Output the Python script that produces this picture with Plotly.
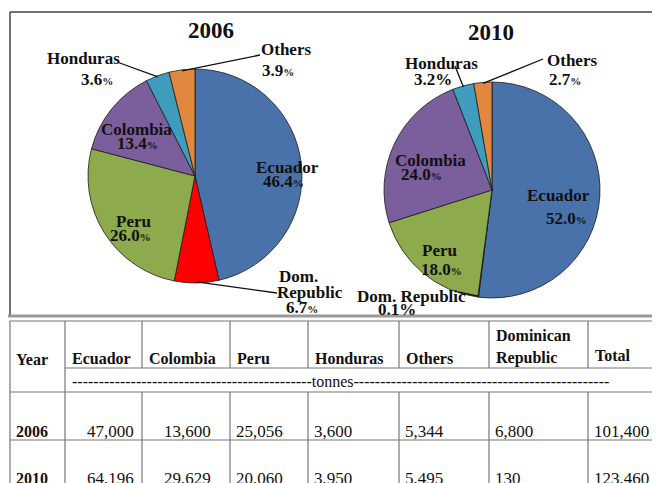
import math
import plotly.graph_objects as go

# the page body adds an 8px margin, so the figure is drawn 8px in
OFF = 8
W, H = 660 - OFF, 483 - OFF

# pie data: share of exports (%)
pie_labels = ["Ecuador", "Dom. Republic", "Peru", "Colombia", "Honduras", "Others"]
share_2006 = [46.4, 6.7, 26.0, 13.4, 3.6, 3.9]
share_2010 = [52.0, 0.1, 18.0, 24.0, 3.2, 2.7]
pie_colors = ["#4A72AA", "#FF0000", "#8DAA4C", "#7B5E9C", "#3E9DBC", "#E2883E"]

# table data (tonnes)
table_years = ["2006", "2010"]
table_cols = ["Ecuador", "Colombia", "Peru", "Honduras", "Others", "Dominican Republic", "Total"]
tonnes_2006 = [47000, 13600, 25056, 3600, 5344, 6800, 101400]
tonnes_2010 = [64196, 29629, 20060, 3950, 5495, 130, 123460]

SERIF = "Liberation Serif, Times New Roman, serif"
INK = "#111111"


def P(x, y):
    # window pixel -> paper coords
    return (x - OFF) / W, 1 - (y - OFF) / H


fig = go.Figure()
ann = []
shapes = []


def text(t, x, y, size, bold=False, xanchor="center"):
    px_, py_ = P(x, y)
    if bold:
        t = "<b>" + t + "</b>"
    ann.append(dict(x=px_, y=py_, xref="paper", yref="paper", text=t, showarrow=False,
                    xanchor=xanchor, yanchor="middle", font=dict(family=SERIF, size=size, color=INK)))


def line(x0, y0, x1, y1, color="#777777", width=1.2):
    a, b = P(x0, y0)
    c, d = P(x1, y1)
    shapes.append(dict(type="line", xref="paper", yref="paper", x0=a, y0=b, x1=c, y1=d,
                       line=dict(color=color, width=width)))


# ---- pies ----
pies = [
    dict(year="2006", values=share_2006, cx=195, cy=176, r=107, title=(211, 31),
         names={"Dom. Republic": ["Dom.", "Republic"]},
         big_pct=set(),
         place={
             "Ecuador": [(287, 167), (283, 182)],
             "Dom. Republic": [(298, 276), (310, 292), (302, 307)],
             "Peru": [(133, 221), (130, 235)],
             "Colombia": [(136, 129), (137, 143)],
             "Honduras": [(83, 59), (97, 80)],
             "Others": [(286, 49), (278, 70)],
         },
         leaders={"Honduras": (117, 62), "Others": (260, 55), "Dom. Republic": (277, 293)}),
    dict(year="2010", values=share_2010, cx=492, cy=190, r=108, title=(491, 33),
         names={},
         big_pct={"Honduras", "Dom. Republic"},
         place={
             "Ecuador": [(558, 195), (566, 218)],
             "Dom. Republic": [(411, 296), (397, 309)],
             "Peru": [(439, 250), (441, 269)],
             "Colombia": [(430, 160), (421, 175)],
             "Honduras": [(441, 63), (433, 80)],
             "Others": [(572, 61), (565, 80)],
         },
         leaders={"Honduras": (455, 66), "Others": (543, 59), "Dom. Republic": (458, 292)}),
]

for p in pies:
    cx, cy, r = p["cx"], p["cy"], p["r"]
    x0, y1 = P(cx - r, cy - r)
    x1, y0 = P(cx + r, cy + r)
    fig.add_trace(go.Pie(
        labels=pie_labels, values=p["values"], sort=False, direction="clockwise", rotation=0,
        marker=dict(colors=pie_colors, line=dict(color="#1a1a1a", width=0.8)),
        textinfo="none", hoverinfo="label+percent", showlegend=False,
        domain=dict(x=[x0, x1], y=[y0, y1]),
    ))
    text(p["year"], p["title"][0], p["title"][1], 23, bold=True)

    total = sum(p["values"])
    cum = 0
    for lab, v in zip(pie_labels, p["values"]):
        mid = (cum + v / 2) / total * 2 * math.pi
        cum += v
        pos = p["place"][lab]
        lines = p["names"].get(lab, [lab])
        for ln, (lx, ly) in zip(lines, pos[:-1]):
            text(ln, lx, ly, 17, bold=True)
        vx, vy = pos[-1]
        if lab in p["big_pct"]:
            vt = "<b>%.1f%%</b>" % v
        else:
            vt = "<b>%.1f</b><span style='font-size:11px'><b>%%</b></span>" % v
        text(vt, vx, vy, 17)
        if lab in p["leaders"]:
            ex = cx + r * 0.99 * math.sin(mid)
            ey = cy - r * 0.99 * math.cos(mid)
            lx, ly = p["leaders"][lab]
            line(lx, ly, ex, ey, color="#111111", width=1.3)

# ---- frame round the pies ----
line(10, 12, 660, 12, color="#444444", width=1.5)
line(10, 12, 10, 316, color="#444444", width=1.5)
line(8, 316, 660, 316, color="#999999", width=3)

# ---- table ----
col_x = [10, 65, 142, 230, 308, 399, 489, 588]
y_top, y_head, y_unit, y_r1, y_bot = 321, 368, 392, 440, 483
line(10, y_top, 660, y_top)
line(10, y_top, 10, y_bot)
line(col_x[1], y_head, 660, y_head)
line(10, y_unit, 660, y_unit)
line(10, y_r1, 660, y_r1)
line(col_x[1], y_top, col_x[1], y_bot)
for cx_ in col_x[2:]:
    line(cx_, y_top, cx_, y_head)
    line(cx_, y_unit, cx_, y_bot)

text("Year", 14, 359, 16, bold=True, xanchor="left")
for i, name in enumerate(table_cols):
    left = col_x[i + 1] + 5
    if name == "Dominican Republic":
        text("Dominican", left, 335, 16, bold=True, xanchor="left")
        text("Republic", left, 358, 16, bold=True, xanchor="left")
    elif name == "Total":
        text(name, left, 355, 16, bold=True, xanchor="left")
    else:
        text(name, left, 358, 16, bold=True, xanchor="left")

text("-" * 45 + "tonnes" + "-" * 48, 70, 381, 16, xanchor="left")

for yr, vals, yc in zip(table_years, [tonnes_2006, tonnes_2010], [431, 478]):
    text(yr, 14, yc, 16, bold=True, xanchor="left")
    for i, v in enumerate(vals):
        s = f"{v:,}"
        if i == 0:
            text(s, 136, yc, 17, xanchor="right")
        elif i == 1:
            text(s, 213, yc, 17, xanchor="right")
        else:
            text(s, col_x[i + 1] + 4, yc, 17, xanchor="left")

fig.update_layout(
    width=W, height=H, margin=dict(l=0, r=0, t=0, b=0),
    paper_bgcolor="white", plot_bgcolor="white",
    annotations=ann, shapes=shapes,
)

fig.write_html("out.html")
